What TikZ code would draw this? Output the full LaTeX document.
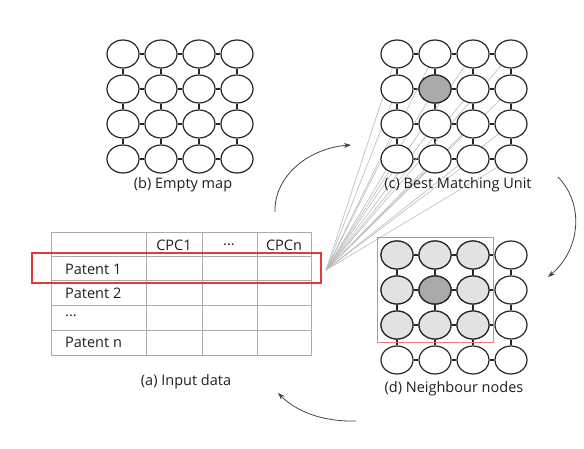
\documentclass[tikz,border=0pt]{standalone}
\usepackage{fontspec}
\setmainfont{Open Sans}
\usetikzlibrary{shapes.geometric,arrows.meta,backgrounds}
\definecolor{ringc}{HTML}{262626}
\definecolor{bmuc}{HTML}{A9A9A9}
\definecolor{nbc}{HTML}{E2E2E2}
\definecolor{fanc}{HTML}{BBBBBB}
\definecolor{tabc}{HTML}{AAAAAA}
\definecolor{redc}{HTML}{E03A3A}
\definecolor{pinkc}{HTML}{EB7E7E}
\definecolor{arrc}{HTML}{444444}
\tikzset{
  unit/.style={ellipse,draw=ringc,line width=1.2pt,fill=white,minimum width=32pt,minimum height=28pt,inner sep=0pt},
  link/.style={draw=ringc,line width=1.2pt},
  fan/.style={draw=fanc,line width=0.6pt},
  tabline/.style={draw=tabc,line width=1pt},
  lbl/.style={font=\fontsize{14.5}{16}\selectfont,text=black!88,inner sep=0pt},
  cell/.style={font=\fontsize{14.5}{16}\selectfont,text=black!88,inner sep=0pt},
  flow/.style={draw=arrc,line width=0.8pt,-{Stealth[length=7pt,width=5pt]}}
}
\begin{document}
\begin{tikzpicture}[x=1pt,y=-1pt]
\useasboundingbox (0,0) rectangle (584,449);
% grids
\foreach \g/\x in {b/123,c/397} {
  \foreach \i in {1,...,4} {
    \foreach \j in {1,...,4} {
      \node[unit] (\g-\i-\j) at ({\x+38*(\j-1)},{54+35*(\i-1)}) {};
    }
  }
}
\foreach \i in {1,...,4} {
  \foreach \j in {1,...,4} {
    \node[unit] (d-\i-\j) at ({397+38*(\j-1)},{255+35*(\i-1)}) {};
  }
}
\foreach \i in {1,2,3} {
  \foreach \j in {1,2,3} {
    \node[unit,fill=nbc] at (d-\i-\j) {};
  }
}
\node[unit,fill=bmuc] at (c-2-2) {};
\node[unit,fill=bmuc] at (d-2-2) {};
% links
\begin{scope}[on background layer]
\foreach \g in {b,c,d} {
  \foreach \i in {1,...,4} {
    \foreach \j/\k in {1/2,2/3,3/4} {
      \path[link] (\g-\i-\j) -- (\g-\i-\k);
      \path[link] (\g-\j-\i) -- (\g-\k-\i);
    }
  }
}
\coordinate (apex) at (326,270);
\foreach \i in {1,...,4} {
  \foreach \j in {1,...,4} {
    \path[fan] (apex) -- (c-\i-\j.center);
  }
}
\end{scope}
% neighbourhood box
\draw[pinkc,line width=1pt] (377.5,237.5) rectangle (493.5,342.5);
% table
\draw[tabline] (51,233) rectangle (311,355);
\foreach \y in {257,281,306,330} \draw[tabline] (51,\y) -- (311,\y);
\foreach \x in {146,202,257} \draw[tabline] (\x,233) -- (\x,355);
\node[cell] (h1) at (174,245) {CPC1};
\node[cell] (h2) at (229,245) {...};
\node[cell] (h3) at (284,245) {CPCn};
\node[cell,anchor=west] (r1) at (65,269) {Patent 1};
\node[cell,anchor=west] (r2) at (65,293) {Patent 2};
\node[cell,anchor=west] (r3) at (65,316) {...};
\node[cell,anchor=west] (r4) at (65,342) {Patent n};
\draw[redc,line width=1.3pt] (32,253) rectangle (321,283);
% labels
\node[lbl] (lb) at (183,185) {(b) Empty map};
\node[lbl] (lc) at (458,185) {(c) Best Matching Unit};
\node[lbl] (ld) at (454,389) {(d) Neighbour nodes};
\node[lbl] (la) at (186,382) {(a) Input data};
% flow arrows
\coordinate (a1s) at (275,212);
\coordinate (a1e) at (351,145);
\coordinate (a2s) at (558,177);
\coordinate (a2e) at (548,277);
\coordinate (a3s) at (356,421);
\coordinate (a3e) at (278,393);
\draw[flow] (a1s) .. controls (274,175) and (310,148) .. (a1e);
\draw[flow] (a2s) .. controls (585,205) and (580,250) .. (a2e);
\draw[flow] (a3s) .. controls (320,422) and (295,410) .. (a3e);
\end{tikzpicture}
\end{document}
